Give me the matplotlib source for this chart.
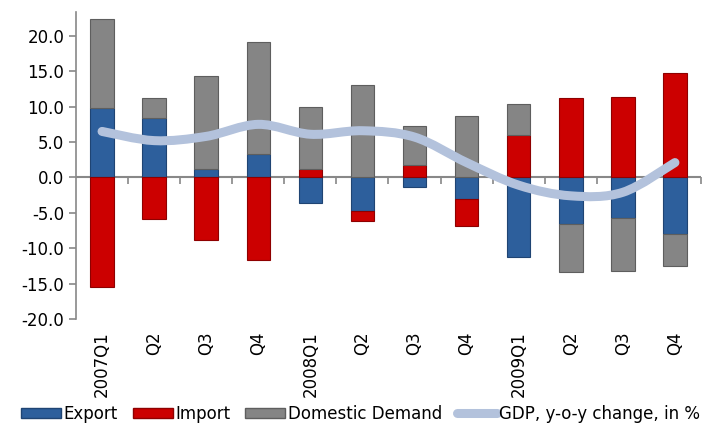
import numpy as np
import matplotlib
matplotlib.use("Agg")
import matplotlib.pyplot as plt
from matplotlib.path import Path
from matplotlib.patches import PathPatch, Patch
from matplotlib.lines import Line2D

quarters = ["2007Q1", "Q2", "Q3", "Q4", "2008Q1", "Q2", "Q3", "Q4",
            "2009Q1", "Q2", "Q3", "Q4"]
export = [9.8, 8.4, 1.2, 3.3, -3.65, -4.8, -1.3, -3.1, -11.3, -6.6, -5.8, -8.0]
imports = [-15.5, -5.9, -8.9, -11.6, 1.2, -1.35, 1.7, -3.7, 6.0, 11.2, 11.4, 14.8]
domestic = [12.6, 2.8, 13.2, 15.8, 8.7, 13.0, 5.5, 8.65, 4.35, -6.8, -7.4, -4.5]
gdp = [6.5, 5.2, 5.8, 7.5, 6.1, 6.6, 5.7, 2.1, -1.1, -2.6, -2.1, 2.1]

series = [("Export", export, "#2d5f9c", "#1f4473"),
          ("Import", imports, "#cc0000", "#8e0000"),
          ("Domestic Demand", domestic, "#858585", "#5e5e5e")]

fig = plt.figure(figsize=(7.07, 4.23), dpi=100)
ax = fig.add_axes([0.1075, 0.246, 0.884, 0.726])

x = np.arange(len(quarters))
pos_base = np.zeros(len(x))
neg_base = np.zeros(len(x))
for name, vals, col, edge in series:
    v = np.array(vals)
    bottom = np.where(v >= 0, pos_base, neg_base)
    ax.bar(x, v, 0.45, bottom=bottom, color=col, edgecolor=edge,
           linewidth=0.8, zorder=2)
    pos_base += np.where(v >= 0, v, 0)
    neg_base += np.where(v < 0, v, 0)

# smoothed GDP line (Catmull-Rom as bezier)
pts = np.column_stack([x, gdp]).astype(float)
ext = np.vstack([pts[0], pts, pts[-1]])
verts = [tuple(pts[0])]
codes = [Path.MOVETO]
for i in range(1, len(ext) - 2):
    p0, p1, p2, p3 = ext[i - 1], ext[i], ext[i + 1], ext[i + 2]
    c1 = p1 + (p2 - p0) / 6
    c2 = p2 - (p3 - p1) / 6
    verts += [tuple(c1), tuple(c2), tuple(p2)]
    codes += [Path.CURVE4] * 3
ax.add_patch(PathPatch(Path(verts, codes), fill=False, edgecolor="#b3c2dc",
                       linewidth=6.5, capstyle="round", joinstyle="round",
                       zorder=3))

ax.set_xlim(-0.5, 11.5)
ax.set_ylim(-20, 23.4)
ax.set_yticks(np.arange(-20, 21, 5))
ax.set_yticklabels([f"{t:.1f}" for t in np.arange(-20, 21, 5)])
ax.tick_params(axis="y", labelsize=12, direction="out", length=5,
               color="#888888", width=1.2)

ax.set_xticks(x)
ax.set_xticklabels(quarters, rotation=90, fontsize=12)
ax.tick_params(axis="x", length=0, pad=9)

for s in ["top", "right", "bottom"]:
    ax.spines[s].set_visible(False)
ax.spines["left"].set_color("#888888")
ax.spines["left"].set_linewidth(1.2)

ax.axhline(0, color="#888888", linewidth=1.5, zorder=1)
zero_frac = (0 - (-20)) / (23.4 + 20)
sec = ax.secondary_xaxis(zero_frac)
sec.set_xticks(np.arange(0.5, 12, 1))
sec.set_xticklabels([])
sec.tick_params(direction="out", length=5, color="#888888", width=1.2)
sec.spines["bottom"].set_visible(False)
sec.xaxis.set_ticks_position("bottom")

handles = [Patch(facecolor=c, edgecolor=e) for _, _, c, e in series]
handles.append(Line2D([0], [0], color="#b3c2dc", linewidth=6.5,
                      solid_capstyle="round"))
labels = [s[0] for s in series] + ["GDP, y-o-y change, in %"]
fig.legend(handles, labels, loc="lower center", bbox_to_anchor=(0.51, -0.035),
           ncol=4, frameon=False, fontsize=12, handlelength=2.4,
           handleheight=0.5, handletextpad=0.15, columnspacing=0.9)

fig.savefig("out.png", dpi=100)
